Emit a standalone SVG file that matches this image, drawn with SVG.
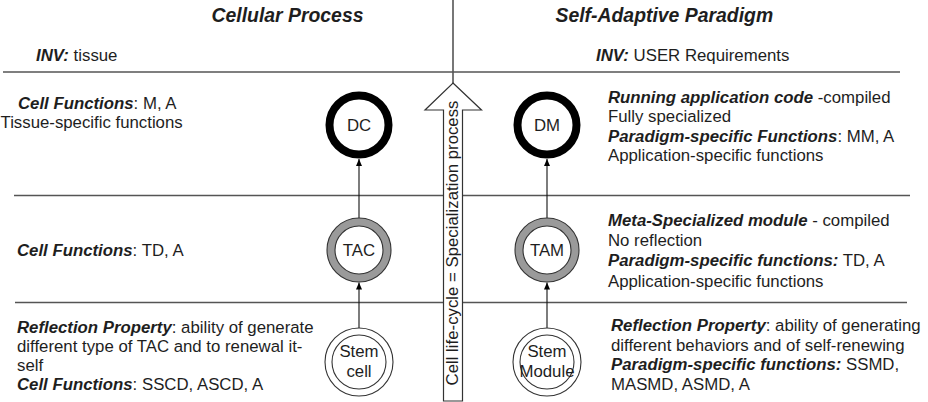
<svg xmlns="http://www.w3.org/2000/svg" width="928" height="402" viewBox="0 0 928 402">
<style>
text{font-family:"Liberation Sans",Arial,sans-serif;font-size:16.8px;fill:#1e1e1e}
.title{font-size:19.4px;font-weight:bold;font-style:italic}
.b{font-weight:bold;font-style:italic}
.lbl{text-anchor:middle}
.hl{stroke:#555;stroke-width:1.6;fill:none}
.conn{stroke:#111;stroke-width:1.1;fill:none}
.dk{fill:#fff;stroke:#000;stroke-width:8}
.ringg{fill:none;stroke:#9a9a9a;stroke-width:8}
.thin{fill:none;stroke:#333;stroke-width:1.1}
</style>
<defs>
<marker id="ah" markerWidth="8" markerHeight="8" refX="7" refY="4" orient="auto" markerUnits="userSpaceOnUse">
<path d="M0,1 L7,4 L0,7 Z" fill="#000"/>
</marker>
</defs>
<rect width="928" height="402" fill="#fff"/>
<g id="headers">
<text class="title" x="211.5" y="22">Cellular Process</text>
<text class="title" x="555.5" y="22">Self-Adaptive Paradigm</text>
<text x="36" y="61"><tspan class="b">INV:</tspan> tissue</text>
<text x="596" y="61"><tspan class="b">INV:</tspan> USER Requirements</text>
</g>
<g id="dividers">
<line class="hl" x1="3" y1="72" x2="900" y2="72"/>
<line class="hl" x1="14" y1="195.5" x2="910" y2="195.5"/>
<line class="hl" x1="15" y1="302.5" x2="907" y2="302.5"/>
<line class="hl" x1="453" y1="0" x2="453" y2="83" stroke-width="1.3"/>
</g>
<g id="lifecycle-arrow">
<path d="M453,83 L481.5,110 L462.5,110 L462.5,401 L443.5,401 L443.5,110 L425,110 Z" fill="#fff" stroke="#333" stroke-width="1.2"/>
<text x="458" y="243" font-size="17.6" text-anchor="middle" transform="rotate(-90 458 243)">Cell life-cycle = Specialization process</text>
</g>
<g id="connectors">
<line class="conn" x1="359" y1="218" x2="359" y2="159" marker-end="url(#ah)"/>
<line class="conn" x1="359" y1="328" x2="359" y2="282.5" marker-end="url(#ah)"/>
<line class="conn" x1="547" y1="218" x2="547" y2="159" marker-end="url(#ah)"/>
<line class="conn" x1="547" y1="328" x2="547" y2="282.5" marker-end="url(#ah)"/>
</g>
<g id="DC">
<circle class="dk" cx="359" cy="125" r="29.5"/>
<text class="lbl" x="359" y="131">DC</text>
</g>
<g id="DM">
<circle class="dk" cx="547" cy="125" r="29.5"/>
<text class="lbl" x="547" y="131">DM</text>
</g>
<g id="TAC">
<circle cx="359" cy="250" r="32" fill="#fff"/>
<circle class="ringg" cx="359" cy="250" r="28"/>
<circle class="thin" cx="359" cy="250" r="32"/>
<circle class="thin" cx="359" cy="250" r="24"/>
<text class="lbl" x="359" y="256">TAC</text>
</g>
<g id="TAM">
<circle cx="547" cy="250" r="32" fill="#fff"/>
<circle class="ringg" cx="547" cy="250" r="28"/>
<circle class="thin" cx="547" cy="250" r="32"/>
<circle class="thin" cx="547" cy="250" r="24"/>
<text class="lbl" x="547" y="256">TAM</text>
</g>
<g id="StemCell">
<circle class="thin" cx="359" cy="362" r="34" fill="#fff"/>
<circle class="thin" cx="359" cy="362" r="27"/>
<text class="lbl" x="359" y="357">Stem</text>
<text class="lbl" x="359" y="377">cell</text>
</g>
<g id="StemModule">
<circle class="thin" cx="547" cy="362" r="34" fill="#fff"/>
<circle class="thin" cx="547" cy="362" r="27"/>
<text class="lbl" x="547" y="357">Stem</text>
<text class="lbl" x="547" y="377">Module</text>
</g>
<g id="left-text">
<text x="18" y="109"><tspan class="b">Cell Functions</tspan>: M, A</text>
<text x="0.5" y="128">Tissue-specific functions</text>
<text x="17" y="256"><tspan class="b">Cell Functions</tspan>: TD, A</text>
<text x="17" y="333"><tspan class="b">Reflection Property</tspan>:  ability of generate</text>
<text x="17" y="352">different type of TAC and to renewal it-</text>
<text x="17" y="371">self</text>
<text x="17" y="390"><tspan class="b">Cell Functions</tspan>: SSCD, ASCD, A</text>
</g>
<g id="right-text">
<text x="608" y="103"><tspan class="b">Running application code</tspan> -compiled</text>
<text x="608" y="122">Fully specialized</text>
<text x="608" y="141.5"><tspan class="b">Paradigm-specific Functions</tspan>: MM, A</text>
<text x="608" y="161">Application-specific functions</text>
<text x="608" y="226"><tspan class="b">Meta-Specialized module</tspan> - compiled</text>
<text x="608" y="246">No reflection</text>
<text x="608" y="265.5"><tspan class="b">Paradigm-specific functions:</tspan> TD, A</text>
<text x="608" y="286.5">Application-specific functions</text>
<text x="611" y="330.5"><tspan class="b">Reflection Property</tspan>: ability of generating</text>
<text x="611" y="350.5">different behaviors and of self-renewing</text>
<text x="611" y="370"><tspan class="b">Paradigm-specific functions:</tspan> SSMD,</text>
<text x="611" y="390">MASMD, ASMD, A</text>
</g>
</svg>
